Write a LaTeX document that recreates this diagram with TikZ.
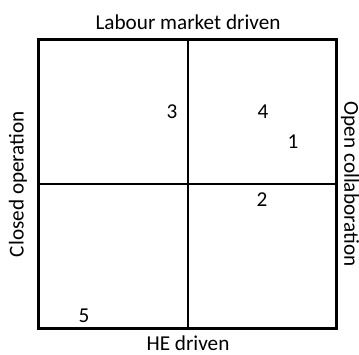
\documentclass[tikz,border=0pt]{standalone}
\usepackage{fontspec}
\setmainfont{Carlito}
\begin{document}
\begin{tikzpicture}[x=0.5pt,y=-0.5pt]
    \tikzstyle{every node}=[inner sep=0pt,font=\fontsize{10.6}{12}\selectfont];
    \tikzstyle{frame}=[line width=1.5pt];
    \tikzstyle{divider}=[line width=1pt];
    \useasboundingbox (0,0) rectangle (359,354);
    % corners and mid points of the square
    \coordinate (tl) at (38,39);
    \coordinate (br) at (336,328);
    \coordinate (top) at (188,39);
    \coordinate (bottom) at (188,328);
    \coordinate (left) at (38,184);
    \coordinate (right) at (336,184);

    \draw[divider] (top) -- (bottom);
    \draw[divider] (left) -- (right);
    \draw[frame] (tl) rectangle (br);

    % axis labels
    \node at (188, 22)  (labour) {Labour market driven};
    \node at (188, 343) (he) {HE driven};
    \node at (18, 184)  (closed) [rotate=90] {Closed operation};
    \node at (350, 184) (open) [rotate=-90] {Open collaboration};

    % numbered positions
    \node at (293, 142) (n1) {1};
    \node at (262, 200) (n2) {2};
    \node at (172, 112) (n3) {3};
    \node at (263, 112) (n4) {4};
    \node at (84, 316)  (n5) {5};
\end{tikzpicture}
\end{document}
